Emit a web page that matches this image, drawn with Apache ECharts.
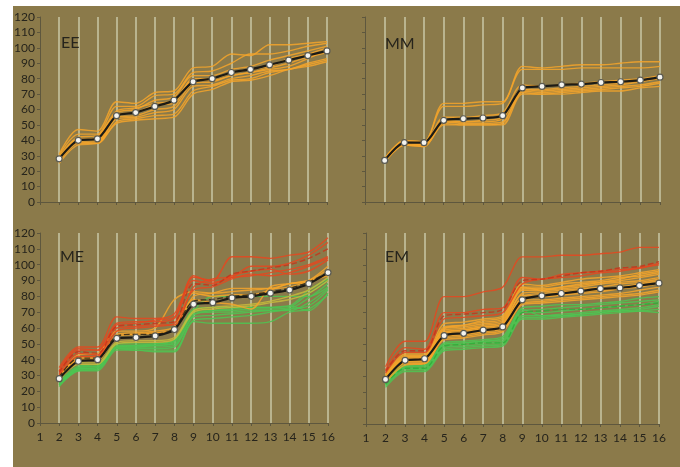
<!DOCTYPE html>
<html>
<head>
<meta charset="utf-8">
<script src="https://cdn.jsdelivr.net/npm/echarts@6/dist/echarts.min.js"></script>
<style>
html, body { margin: 0; padding: 0; background: #fff; }
#bg { position: absolute; left: 13px; top: 6px; width: 667px; height: 461px; background: #8b7a4a; }
#main { position: absolute; left: 0; top: 0; width: 680px; height: 467px; }
</style>
</head>
<body>
<div id="bg"></div>
<div id="main"></div>
<script>
var xLabels = ['1','2','3','4','5','6','7','8','9','10','11','12','13','14','15','16'];
var xValues = [2,3,4,5,6,7,8,9,10,11,12,13,14,15,16];

// EE
var eeMean = [28, 40, 41, 56, 58, 62, 66, 78, 80, 84, 86, 89, 92, 95, 98];
var eeOrange = [
    [31, 47, 46, 65, 64, 71, 72, 87, 88, 96, 95, 102, 102, 103, 104],
    [30, 44, 44, 62, 62, 69, 70, 84, 85, 90, 96, 96, 98, 101, 103],
    [29, 42, 43, 58, 60, 66, 68, 82, 82, 86, 88, 92, 95, 98, 101],
    [28, 41, 40, 57, 58, 63, 64, 80, 80, 84, 86, 88, 93, 96, 100],
    [27, 39, 39, 55, 56, 60, 62, 77, 78, 82, 84, 87, 90, 94, 97],
    [27, 39, 38, 54, 55, 58, 60, 75, 76, 80, 82, 85, 86, 90, 93],
    [26, 38, 38, 52, 54, 56, 57, 72, 75, 79, 80, 84, 86, 89, 92],
    [25, 37, 38, 51, 53, 54, 55, 70, 73, 78, 79, 82, 86, 88, 91],
    [28, 40, 42, 59, 61, 64, 66, 79, 79, 82, 84, 86, 88, 93, 99]
];

// MM
var mmMean = [27, 38.5, 38.5, 53, 54, 54.5, 56, 74, 75, 76, 76.5, 77.5, 78, 79, 81];
var mmOrange = [
    [28, 40, 39, 64, 64, 65, 65, 88, 87, 88, 89, 89, 90, 91, 91],
    [28, 40, 39, 62, 62, 63, 64, 86, 86, 86, 87, 87, 87, 87, 88],
    [27, 39, 38, 55, 55, 56, 58, 76, 75, 76, 77, 78, 79, 80, 82],
    [27, 38, 37, 53, 52, 52, 54, 73, 72, 73, 74, 75, 76, 78, 80],
    [26, 37, 37, 52, 51, 51, 52, 72, 71, 72, 73, 74, 75, 76, 78],
    [26, 37, 36, 51, 50, 50, 51, 71, 70, 71, 72, 73, 74, 75, 77],
    [26, 37, 36, 50, 50, 50, 50, 70, 70, 70, 71, 72, 72, 74, 75],
    [27, 38, 37, 52, 52, 53, 55, 73, 73, 74, 75, 76, 77, 79, 81]
];

// ME
var meMean = [28, 39, 40, 53.5, 54, 55, 59, 75, 76, 79, 80, 82, 84, 88, 95];
var meRed = [
    [35, 48, 48, 67, 66, 66, 69, 92, 90, 105, 105, 104, 106, 108, 117],
    [33, 46, 46, 63, 64, 64, 66, 93, 89, 92, 99, 99, 101, 106, 114],
    [31, 44, 43, 60, 61, 62, 62, 86, 91, 92, 93, 95, 97, 100, 105],
    [30, 42, 42, 58, 60, 61, 63, 84, 86, 91, 94, 93, 95, 99, 104],
    [33, 47, 46, 62, 63, 65, 67, 90, 88, 93, 96, 97, 94, 96, 103]
];
var meRedDashed = [32, 45, 44, 61, 62, 63, 64, 88, 87, 94, 96, 98, 100, 104, 110];
var meOrange = [
    [30, 43, 44, 58, 58, 60, 78, 83, 82, 83, 84, 85, 88, 90, 97],
    [29, 41, 42, 56, 57, 58, 61, 82, 80, 81, 81, 84, 88, 89, 95],
    [29, 40, 40, 55, 56, 57, 59, 80, 82, 85, 85, 85, 86, 90, 99],
    [28, 40, 41, 55, 56, 57, 59, 78, 76, 75, 72, 86, 88, 90, 93]
];
var meYellow = [
    [27, 38, 38, 51, 52, 52, 54, 71, 73, 74, 75, 77, 80, 84, 92],
    [27, 37, 37, 50, 51, 51, 53, 70, 72, 73, 74, 76, 78, 82, 90]
];
var meGreen = [
    [26, 36, 37, 50, 50, 50, 52, 72, 73, 73, 73, 73, 74, 84, 91],
    [25, 35, 36, 49, 49, 49, 51, 70, 71, 71, 72, 72, 73, 82, 90],
    [25, 34, 35, 48, 48, 49, 50, 69, 70, 70, 71, 71, 72, 79, 88],
    [24, 34, 34, 47, 47, 47, 48, 67, 68, 69, 70, 71, 71, 76, 85],
    [24, 33, 34, 47, 46, 46, 46, 65, 66, 67, 68, 70, 72, 74, 84],
    [23, 33, 33, 46, 46, 45, 45, 64, 63, 63, 63, 64, 70, 72, 81],
    [25, 35, 36, 48, 49, 50, 52, 71, 80, 80, 80, 80, 80, 80, 86],
    [24, 34, 35, 48, 48, 48, 49, 68, 71, 72, 73, 73, 74, 71, 82]
];
var meDarkDashed = [29, 41, 41, 55, 56, 56, 60, 77, 78, 80, 81, 83, 85, 89, 95];

// EM
var emMean = [28, 40, 41, 55.5, 57, 59, 61, 78, 80.5, 82, 83.5, 85, 85.5, 87, 88.5];
var emRed = [
    [36, 52, 52, 80, 80, 83, 86, 105, 105, 106, 106, 107, 108, 111, 111],
    [34, 48, 47, 70, 70, 72, 73, 92, 91, 94, 95, 96, 97, 98, 101],
    [32, 45, 45, 66, 67, 68, 70, 88, 91, 92, 93, 95, 96, 98, 100]
];
var emRedDashed = [33, 46, 46, 68, 69, 70, 72, 90, 91, 93, 95, 96, 98, 99, 102];
var emOrange = [
    [31, 44, 44, 63, 64, 66, 68, 88, 87, 89, 91, 92, 93, 95, 97],
    [30, 43, 43, 61, 62, 64, 66, 86, 86, 88, 89, 90, 92, 93, 95],
    [30, 42, 42, 60, 61, 63, 65, 85, 85, 86, 88, 89, 90, 92, 94],
    [29, 41, 42, 59, 60, 62, 64, 84, 84, 85, 86, 88, 89, 90, 92],
    [29, 41, 41, 58, 59, 61, 63, 82, 83, 84, 85, 86, 88, 89, 91],
    [28, 40, 40, 57, 58, 60, 62, 80, 82, 83, 84, 85, 86, 88, 90],
    [28, 39, 40, 56, 57, 59, 61, 79, 80, 81, 82, 83, 85, 86, 88],
    [27, 39, 39, 55, 56, 58, 60, 78, 78, 79, 80, 81, 82, 84, 86],
    [27, 38, 38, 54, 55, 57, 59, 76, 77, 78, 79, 80, 81, 82, 84],
    [26, 37, 38, 53, 54, 56, 58, 75, 76, 77, 78, 79, 80, 81, 83],
    [30, 42, 43, 60, 62, 65, 67, 86, 84, 86, 87, 89, 91, 94, 96],
    [28, 40, 41, 57, 59, 61, 63, 81, 80, 81, 83, 84, 85, 87, 89]
];
var emGreen = [
    [27, 37, 37, 51, 52, 53, 55, 73, 74, 75, 75, 76, 77, 79, 80],
    [26, 36, 36, 50, 51, 52, 54, 71, 72, 73, 74, 75, 76, 77, 78],
    [25, 35, 35, 49, 50, 51, 52, 70, 70, 71, 72, 73, 74, 75, 77],
    [25, 35, 34, 48, 49, 50, 51, 68, 68, 69, 70, 71, 72, 73, 75],
    [24, 34, 34, 47, 48, 49, 50, 67, 67, 68, 69, 70, 71, 72, 74],
    [23, 33, 33, 46, 47, 48, 49, 66, 66, 67, 68, 69, 70, 71, 72],
    [26, 36, 37, 50, 51, 52, 53, 72, 68, 68, 69, 70, 71, 71, 70]
];
var emGreenDashed = [25, 35, 35, 49, 50, 51, 51, 70, 71, 72, 72, 73, 74, 75, 76];

var ORANGE = '#f4a52a', RED = '#e6461f', GREEN = '#4cc552', YELLOW = '#c6bb3c';

var panels = [
    { name: 'EE', grid: { left: 40, top: 17, width: 287, height: 185 }, title: [61, 35], xLabels: false, yLabels: true },
    { name: 'MM', grid: { left: 365, top: 17, width: 295, height: 185 }, title: [385, 36], xLabels: false, yLabels: false },
    { name: 'ME', grid: { left: 40, top: 233, width: 288, height: 190 }, title: [60, 249], xLabels: true, yLabels: true },
    { name: 'EM', grid: { left: 366, top: 233, width: 293, height: 191 }, title: [385, 249], xLabels: true, yLabels: false }
];

function pts(vals) {
    return vals.map(function (v, i) { return [String(xValues[i]), v]; });
}

var series = [];
function addLine(idx, vals, color, dashed) {
    series.push({
        type: 'line', xAxisIndex: idx, yAxisIndex: idx,
        data: pts(vals), smooth: 0.3, showSymbol: false, silent: true, z: 2,
        lineStyle: { color: color, width: 1.4, opacity: 0.85, type: dashed ? 'dashed' : 'solid' }
    });
}
function addMean(idx, vals) {
    series.push({
        type: 'line', xAxisIndex: idx, yAxisIndex: idx,
        data: pts(vals), smooth: 0.25, symbol: 'circle', symbolSize: 6, z: 5,
        lineStyle: { color: '#1c1b16', width: 2.2 },
        itemStyle: { color: '#f4f4f0', borderColor: '#5a5a52', borderWidth: 1.2 }
    });
}

eeOrange.forEach(function (l) { addLine(0, l, ORANGE); });
addMean(0, eeMean);

mmOrange.forEach(function (l) { addLine(1, l, ORANGE); });
addMean(1, mmMean);

meGreen.forEach(function (l) { addLine(2, l, GREEN); });
meYellow.forEach(function (l) { addLine(2, l, YELLOW); });
meOrange.forEach(function (l) { addLine(2, l, ORANGE); });
meRed.forEach(function (l) { addLine(2, l, RED); });
addLine(2, meRedDashed, '#c8321a', true);
addLine(2, meDarkDashed, '#2a2418', true);
addMean(2, meMean);

emGreen.forEach(function (l) { addLine(3, l, GREEN); });
addLine(3, emGreenDashed, '#2fae3a', true);
emOrange.forEach(function (l) { addLine(3, l, ORANGE); });
emRed.forEach(function (l) { addLine(3, l, RED); });
addLine(3, emRedDashed, '#c8321a', true);
addMean(3, emMean);

var axisColor = '#5e573e';
var textColor = '#26241c';

var option = {
    animation: false,
    backgroundColor: 'transparent',
    title: panels.map(function (p) {
        return {
            text: p.name, left: p.title[0], top: p.title[1], padding: 0,
            textStyle: { fontSize: 16, fontWeight: 'normal', color: textColor, fontFamily: 'Lato' }
        };
    }),
    grid: panels.map(function (p) { return p.grid; }),
    xAxis: panels.map(function (p, i) {
        return {
            type: 'category', gridIndex: i, data: xLabels, boundaryGap: false,
            axisLine: { show: true, lineStyle: { color: axisColor, width: 1 } },
            axisTick: { show: true, length: 3, lineStyle: { color: axisColor } },
            axisLabel: { show: p.xLabels, color: textColor, fontSize: 12, margin: 8, fontFamily: 'Lato', interval: 0 },
            splitLine: {
                show: true,
                interval: function (index) { return index > 0; },
                lineStyle: { color: 'rgba(205,205,172,0.7)', width: 2 }
            }
        };
    }),
    yAxis: panels.map(function (p, i) {
        return {
            type: 'value', gridIndex: i, min: 0, max: 120, interval: 10,
            axisLine: { show: true, lineStyle: { color: axisColor, width: 1 } },
            axisTick: { show: true, length: 3, lineStyle: { color: axisColor } },
            axisLabel: { show: p.yLabels, color: textColor, fontSize: 12, margin: 5, fontFamily: 'Lato' },
            splitLine: { show: false }
        };
    }),
    series: series
};

var chart = echarts.init(document.getElementById('main'));
chart.setOption(option);
</script>
</body>
</html>
